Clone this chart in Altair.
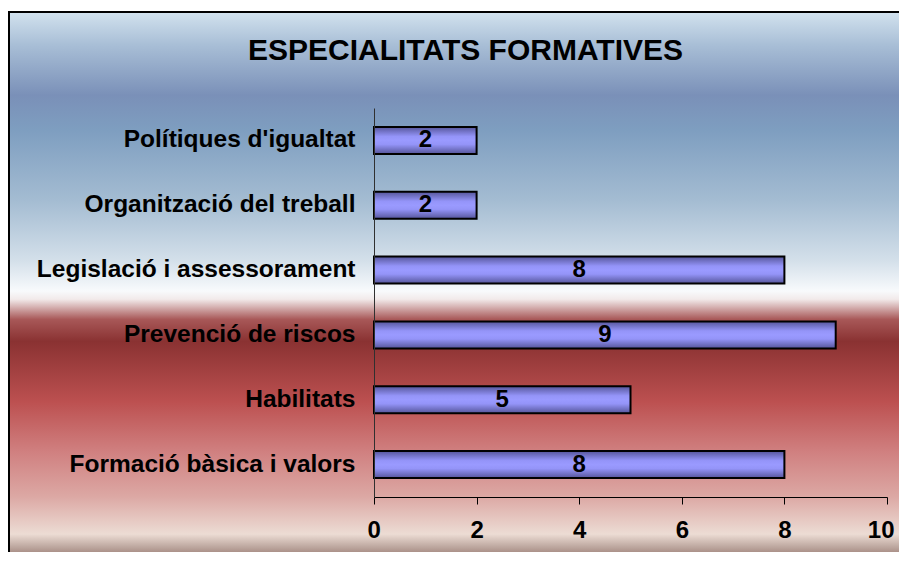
import altair as alt
import pandas as pd

categories = [
    "Polítiques d'igualtat",
    "Organització del treball",
    "Legislació i assessorament",
    "Prevenció de riscos",
    "Habilitats",
    "Formació bàsica i valors",
]
values = [2, 2, 8, 9, 5, 8]
x_ticks = [0, 2, 4, 6, 8, 10]
title_text = "ESPECIALITATS FORMATIVES"

df = pd.DataFrame({"cat": categories, "val": values})
df["mid"] = df["val"] / 2

W, H = 513, 389
PAD = {"left": 366, "top": 100, "right": 12, "bottom": 55}
FONT = "Liberation Sans"

bg_stops = [
    (0.0, "#d2e2ee"), (0.061, "#a8bed6"), (0.153, "#7a90b8"), (0.217, "#7e9ec0"),
    (0.346, "#a4bcd2"), (0.457, "#d4e0ea"), (0.512, "#f8fafc"), (0.527, "#f2eaea"),
    (0.564, "#a85858"), (0.604, "#8a3232"), (0.715, "#bc5050"), (0.807, "#d08080"),
    (0.889, "#dca8a4"), (0.958, "#ecdcd4"), (0.982, "#bca69e"), (1.0, "#9a7c74"),
]
bg_grad = alt.Gradient(
    gradient="linear", x1=0, y1=0, x2=0, y2=1,
    stops=[alt.GradientStop(offset=o, color=c) for o, c in bg_stops],
)
bar_grad = alt.Gradient(
    gradient="linear", x1=0, y1=0, x2=0, y2=1,
    stops=[
        alt.GradientStop(offset=0.0, color="#55559a"),
        alt.GradientStop(offset=0.35, color="#9494f8"),
        alt.GradientStop(offset=0.5, color="#9a9aff"),
        alt.GradientStop(offset=0.65, color="#9494f8"),
        alt.GradientStop(offset=1.0, color="#55559a"),
    ],
)

bg = alt.Chart(pd.DataFrame({"a": [0]})).mark_rect(
    fill=bg_grad, stroke="black", strokeWidth=2
).encode(
    x=alt.value(-365), x2=alt.value(W + 40),
    y=alt.value(-96), y2=alt.value(H + PAD["bottom"] + 5),
)

title = alt.Chart(pd.DataFrame({"t": [title_text]})).mark_text(
    font=FONT, fontSize=30, fontWeight="bold", color="black",
    align="center", baseline="alphabetic",
).encode(x=alt.value(91.5), y=alt.value(-48), text="t:N")

y_enc = alt.Y(
    "cat:N", sort=categories, title=None,
    axis=alt.Axis(
        labelFont=FONT, labelFontSize=24.5, labelFontWeight="bold", labelColor="black",
        labelPadding=19, ticks=False, domainColor="#303030", labelLimit=400, zindex=1,
    ),
)

bars = alt.Chart(df).mark_bar(
    height=27, fill=bar_grad, stroke="black", strokeWidth=2
).encode(
    x=alt.X(
        "val:Q", title=None,
        scale=alt.Scale(domain=[0, 10], nice=False),
        axis=alt.Axis(
            values=x_ticks, labelFont=FONT, labelFontSize=24, labelFontWeight="bold",
            labelColor="black", labelPadding=14, tickSize=7, tickColor="black",
            domainColor="black", grid=False, labelFlush=True, labelFlushOffset=7,
            zindex=1,
        ),
    ),
    y=y_enc,
)

labels = alt.Chart(df).mark_text(
    font=FONT, fontSize=24, fontWeight="bold", color="black", baseline="middle"
).encode(
    x="mid:Q", y=alt.Y("cat:N", sort=categories), text="val:Q"
)

chart = alt.layer(bg, title, bars, labels).properties(
    width=W, height=H,
    autosize=alt.AutoSizeParams(type="none"),
    padding=PAD,
).configure_view(stroke=None)

chart.save("out.html", embed_options={"renderer": "svg", "actions": False})
